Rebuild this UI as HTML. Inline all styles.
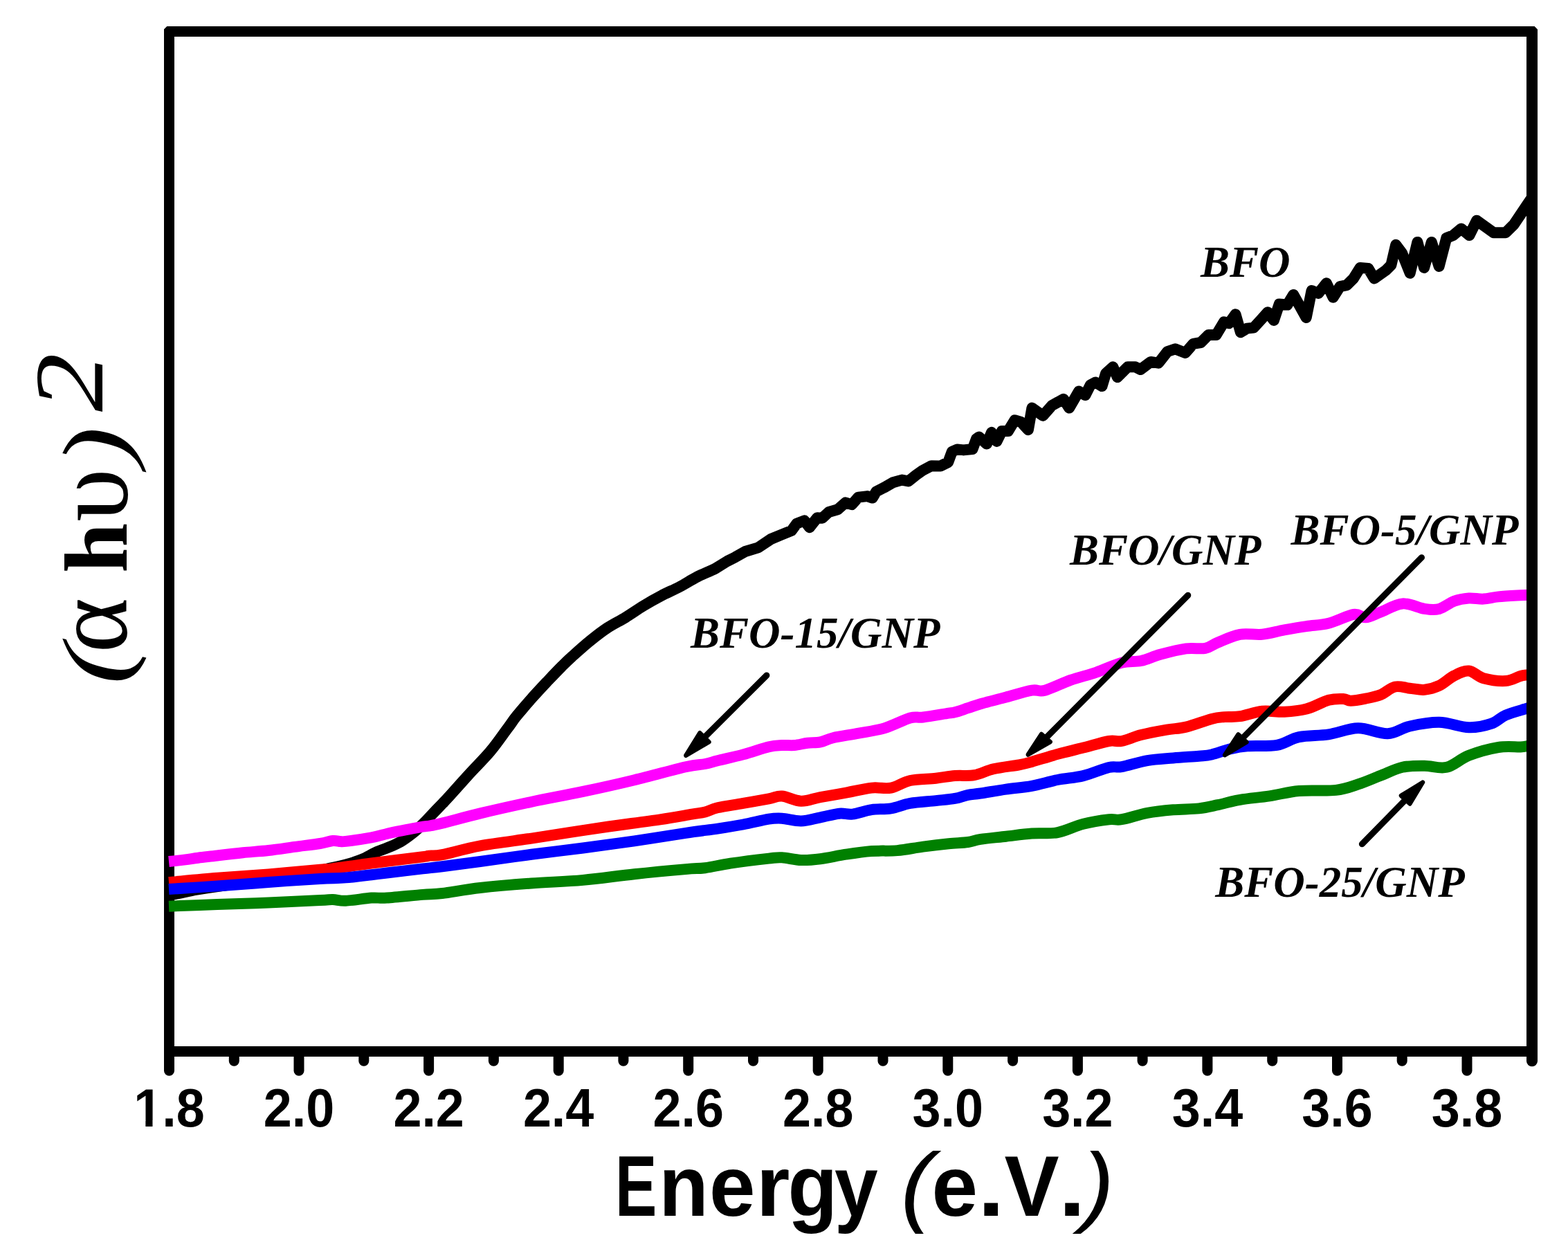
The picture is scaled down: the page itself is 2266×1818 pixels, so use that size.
<!DOCTYPE html><html><head><meta charset="utf-8"><style>html,body{margin:0;padding:0;background:#fff;overflow:hidden}svg{display:block}</style></head><body><svg width="2266" height="1818" viewBox="0 0 2266 1818">
<rect width="100%" height="100%" fill="#fff"/>
<defs><clipPath id="oneclip" clipPathUnits="userSpaceOnUse"><rect x="0" y="0" width="2400" height="1619.5"/><rect x="222.6" y="0" width="10.7" height="1818"/><rect x="251" y="0" width="300" height="1818"/></clipPath><clipPath id="plotclip"><rect x="0" y="0" width="2206" height="1818"/></clipPath></defs>
<g stroke="#000" stroke-width="15" fill="none">
<path d="M241.3,38 H2217.6 L2222,42.4 V1527 H237 V42.3 Z M252,53 V1512 H2206 V53 Z" fill="#000" fill-rule="evenodd" stroke="none"/>
</g>
<g stroke="#000" stroke-width="15" stroke-linecap="round"><line x1="244.5" y1="1519.5" x2="244.5" y2="1547.2"/><line x1="338.3" y1="1519.5" x2="338.3" y2="1533.3"/><line x1="432.0" y1="1519.5" x2="432.0" y2="1547.2"/><line x1="525.8" y1="1519.5" x2="525.8" y2="1533.3"/><line x1="619.6" y1="1519.5" x2="619.6" y2="1547.2"/><line x1="713.4" y1="1519.5" x2="713.4" y2="1533.3"/><line x1="807.2" y1="1519.5" x2="807.2" y2="1547.2"/><line x1="900.9" y1="1519.5" x2="900.9" y2="1533.3"/><line x1="994.7" y1="1519.5" x2="994.7" y2="1547.2"/><line x1="1088.5" y1="1519.5" x2="1088.5" y2="1533.3"/><line x1="1182.2" y1="1519.5" x2="1182.2" y2="1547.2"/><line x1="1276.0" y1="1519.5" x2="1276.0" y2="1533.3"/><line x1="1369.8" y1="1519.5" x2="1369.8" y2="1547.2"/><line x1="1463.6" y1="1519.5" x2="1463.6" y2="1533.3"/><line x1="1557.4" y1="1519.5" x2="1557.4" y2="1547.2"/><line x1="1651.1" y1="1519.5" x2="1651.1" y2="1533.3"/><line x1="1744.9" y1="1519.5" x2="1744.9" y2="1547.2"/><line x1="1838.7" y1="1519.5" x2="1838.7" y2="1533.3"/><line x1="1932.5" y1="1519.5" x2="1932.5" y2="1547.2"/><line x1="2026.2" y1="1519.5" x2="2026.2" y2="1533.3"/><line x1="2120.0" y1="1519.5" x2="2120.0" y2="1547.2"/><line x1="2214" y1="1519.5" x2="2214" y2="1533.3" stroke-width="16"/></g>
<path d="M244.0,1291.5 C245.3,1291.6 245.2,1293.3 251.9,1292.3 C258.6,1291.3 272.6,1287.8 284.5,1285.7 C296.4,1283.6 303.8,1282.3 323.0,1279.7 C342.2,1277.1 378.8,1273.1 400.0,1270.0 C421.2,1266.9 436.7,1263.7 450.0,1261.0 C463.3,1258.3 471.7,1255.9 480.0,1254.0 C488.3,1252.1 492.8,1251.5 500.0,1249.5 C507.2,1247.5 516.5,1244.6 523.5,1241.7 C530.5,1238.8 535.8,1235.1 542.0,1232.3 C548.2,1229.5 554.4,1227.6 560.6,1224.9 C566.8,1222.2 572.9,1220.0 579.1,1216.3 C585.3,1212.6 592.2,1207.4 597.7,1203.0 C603.2,1198.6 607.4,1194.5 612.0,1190.0 C616.6,1185.5 620.9,1180.5 625.5,1175.7 C630.1,1170.9 635.4,1165.5 639.4,1161.3 C643.4,1157.1 643.0,1157.6 649.6,1150.4 C656.2,1143.2 668.9,1128.8 678.7,1118.0 C688.6,1107.2 699.7,1096.5 708.7,1085.7 C717.8,1074.9 726.7,1061.7 733.0,1053.3 C739.3,1044.9 740.5,1042.3 746.3,1035.1 C752.1,1027.9 760.0,1018.7 767.7,1010.0 C775.4,1001.3 785.2,990.9 792.5,983.1 C799.8,975.4 805.8,969.1 811.4,963.5 C817.0,957.9 819.2,955.6 826.0,949.5 C832.8,943.4 843.4,933.8 852.0,926.8 C860.6,919.8 869.2,913.0 877.9,907.3 C886.5,901.5 895.2,897.6 903.9,892.3 C912.6,887.0 921.2,880.8 929.9,875.5 C938.5,870.2 947.1,865.3 955.8,860.8 C964.4,856.2 973.1,852.8 981.8,848.2 C990.5,843.7 999.1,837.9 1007.8,833.5 C1016.5,829.1 1026.6,825.4 1033.8,821.6 L1051.0,811.0 L1062.3,805.3 L1077.0,797.0 L1095.7,791.4 L1114.2,779.0 L1129.0,772.8 L1143.9,766.9 L1151.3,756.7 L1162.4,752.4 L1169.9,762.2 L1181.0,748.3 L1188.4,748.7 L1197.7,740.0 L1210.7,736.3 L1221.8,726.4 L1231.0,729.2 L1240.4,718.6 L1253.4,717.1 L1260.8,719.6 L1266.3,710.3 L1277.5,704.7 L1290.5,697.3 L1303.4,693.6 L1312.7,695.4 L1323.9,686.5 L1333.1,680.0 L1346.1,673.2 L1359.1,673.5 L1370.2,668.0 L1375.8,652.8 L1383.2,649.4 L1392.5,650.4 L1405.5,649.0 L1411.0,634.2 L1414.8,631.4 L1425.9,641.6 L1433.0,624.9 L1440.4,637.9 L1447.8,623.0 L1456.9,623.0 L1466.4,607.3 L1475.7,610.0 L1485.9,621.2 L1491.4,589.6 L1507.2,600.8 L1520.2,585.9 L1536.9,576.7 L1545.2,589.6 L1559.1,565.5 L1568.4,571.1 L1575.8,556.3 L1583.3,552.5 L1592.5,558.1 L1598.1,539.6 L1608.3,530.3 L1614.8,545.1 L1629.6,530.3 L1640.8,530.3 L1648.2,534.0 L1663.0,522.9 L1674.2,524.7 L1687.2,508.0 L1698.3,504.3 L1713.1,509.9 L1724.3,496.9 L1735.4,495.0 L1746.5,483.9 L1757.7,483.9 L1768.8,465.3 L1776.2,467.2 L1785.5,454.2 L1792.9,480.2 L1802.2,474.6 L1811.7,473.6 L1823.4,460.9 L1832.1,451.2 L1840.9,462.9 L1848.7,439.5 L1860.4,440.5 L1869.2,425.9 L1887.7,459.0 L1895.5,420.0 L1905.2,423.9 L1916.9,409.3 L1926.6,429.7 L1936.4,414.2 L1946.1,412.2 L1955.9,402.5 L1965.6,386.9 L1977.3,387.9 L1986.0,402.5 L2002.6,390.8 L2010.4,383.0 L2017.2,353.8 L2026.0,365.5 L2037.7,394.7 L2048.4,349.9 L2058.1,386.9 L2068.8,349.9 L2079.6,384.9 L2090.3,344.0 L2100.0,340.1 L2111.7,330.4 L2123.4,340.1 L2134.1,318.7 L2158.5,336.2 L2176.0,336.2 L2187.7,324.5 L2206.0,297.3 L2216.0,282.4" fill="none" stroke="#000" stroke-width="16" stroke-linejoin="round" stroke-linecap="butt" clip-path="url(#plotclip)"/>
<path d="M244.0,1245.0 C248.0,1244.6 260.7,1243.3 267.8,1242.4 C274.9,1241.5 278.7,1240.7 286.4,1239.7 C294.1,1238.7 303.2,1237.8 314.0,1236.5 C324.8,1235.2 338.7,1233.5 351.0,1232.2 C363.3,1231.0 375.6,1230.4 388.0,1229.0 C400.4,1227.6 413.1,1225.6 425.5,1223.9 C437.9,1222.2 453.4,1220.5 462.6,1219.0 C471.9,1217.5 476.1,1215.5 481.0,1215.0 C485.9,1214.5 488.9,1215.8 492.0,1216.0 C495.1,1216.2 492.2,1216.8 499.7,1215.9 C507.2,1215.0 526.9,1212.2 536.8,1210.4 C546.7,1208.6 552.8,1206.5 559.0,1205.0 C565.2,1203.5 565.3,1203.3 574.0,1201.6 C582.7,1199.9 603.3,1195.9 611.0,1194.6 C618.7,1193.3 615.3,1194.4 620.0,1193.6 C624.7,1192.8 626.6,1192.6 639.0,1189.6 C651.4,1186.6 672.6,1180.6 694.2,1175.4 C715.8,1170.2 743.7,1164.0 768.4,1158.7 C793.1,1153.5 817.9,1149.2 842.6,1143.9 C867.3,1138.7 892.1,1133.2 916.8,1127.2 C941.5,1121.2 974.0,1112.1 991.0,1108.2 C1008.0,1104.3 1011.2,1105.5 1018.9,1104.0 C1026.6,1102.5 1027.8,1101.6 1037.0,1099.3 C1046.2,1097.0 1061.6,1093.8 1074.0,1090.4 C1086.4,1087.1 1102.0,1081.4 1111.3,1079.2 C1120.6,1077.0 1123.9,1077.4 1130.0,1077.0 C1136.1,1076.6 1141.8,1077.5 1148.0,1077.0 C1154.2,1076.5 1160.8,1074.5 1167.0,1073.7 C1173.2,1072.9 1179.3,1073.7 1185.5,1072.4 C1191.7,1071.2 1194.8,1068.3 1204.0,1066.2 C1213.2,1064.1 1228.7,1062.0 1241.0,1059.7 C1253.3,1057.4 1265.6,1056.0 1278.0,1052.3 C1290.4,1048.6 1306.1,1040.1 1315.4,1037.5 C1324.7,1034.9 1324.7,1037.7 1334.0,1036.5 C1343.3,1035.3 1363.3,1031.8 1371.0,1030.6 C1378.7,1029.4 1375.3,1030.5 1380.0,1029.3 C1384.7,1028.1 1392.8,1025.2 1399.0,1023.2 C1405.2,1021.2 1407.8,1019.8 1417.0,1017.2 C1426.2,1014.6 1441.6,1010.6 1454.0,1007.4 C1466.4,1004.1 1482.0,999.3 1491.3,997.7 C1500.6,996.1 1500.7,1000.2 1510.0,997.7 C1519.3,995.2 1534.7,987.2 1547.0,982.9 C1559.3,978.6 1571.7,975.9 1584.0,971.7 C1596.3,967.5 1610.2,960.6 1621.0,957.8 C1631.8,955.0 1639.7,957.0 1649.0,955.0 C1658.3,953.0 1666.0,948.7 1676.8,945.8 C1687.6,942.9 1703.2,938.9 1714.0,937.4 C1724.8,935.9 1734.1,938.4 1741.8,936.9 C1749.5,935.4 1751.6,931.9 1760.0,928.5 C1768.4,925.1 1781.3,918.8 1792.0,916.8 C1802.7,914.8 1813.3,917.9 1824.0,916.8 C1834.7,915.7 1845.3,912.3 1856.0,910.4 C1866.7,908.5 1877.3,906.7 1888.0,905.1 C1898.7,903.5 1908.7,903.6 1920.0,900.8 C1931.3,897.9 1947.1,889.4 1956.0,888.0 C1964.9,886.6 1967.0,892.8 1973.4,892.3 C1979.9,891.8 1985.8,888.1 1994.7,884.8 C2003.6,881.5 2016.0,873.2 2026.7,872.4 C2037.4,871.6 2049.8,878.6 2058.7,879.9 C2067.6,881.1 2072.9,881.8 2080.0,879.9 C2087.1,878.0 2094.3,871.4 2101.4,868.8 C2108.5,866.2 2115.6,865.0 2122.7,864.5 C2129.8,864.0 2136.9,866.0 2144.0,865.6 C2151.1,865.2 2156.5,863.3 2165.4,862.4 C2174.3,861.5 2190.6,860.7 2197.4,860.3 C2204.2,859.9 2202.9,860.0 2206.0,859.9 C2209.1,859.8 2214.3,859.5 2216.0,859.4" fill="none" stroke="#ff00ff" stroke-width="16" stroke-linejoin="round" stroke-linecap="butt" clip-path="url(#plotclip)"/>
<path d="M244.0,1275.0 C255.7,1274.0 290.0,1270.7 314.0,1268.8 C338.0,1266.9 363.2,1265.4 388.0,1263.4 C412.8,1261.4 447.3,1258.0 462.6,1256.7 C477.9,1255.4 467.6,1256.9 480.0,1255.4 C492.4,1253.9 515.0,1250.4 536.8,1247.5 C558.6,1244.6 597.1,1240.0 611.0,1238.2 C624.9,1236.4 615.3,1237.1 620.0,1236.6 C624.7,1236.1 626.7,1237.6 639.0,1235.2 C651.3,1232.8 672.5,1226.2 694.0,1222.3 C715.5,1218.4 746.3,1214.8 768.0,1211.6 C789.7,1208.4 805.4,1205.8 824.0,1202.9 C842.6,1200.1 858.0,1197.6 879.7,1194.5 C901.4,1191.4 934.0,1187.3 954.0,1184.3 C974.0,1181.3 989.2,1178.4 1000.0,1176.6 C1010.8,1174.8 1012.8,1175.0 1019.0,1173.5 C1025.2,1172.0 1027.8,1169.4 1037.0,1167.3 C1046.2,1165.2 1061.7,1163.1 1074.0,1160.9 C1086.3,1158.8 1101.7,1156.1 1111.0,1154.4 C1120.3,1152.7 1122.2,1150.0 1130.0,1150.6 C1137.8,1151.1 1148.5,1157.5 1157.7,1157.7 C1167.0,1158.0 1174.7,1154.1 1185.5,1152.1 C1196.3,1150.1 1210.2,1147.8 1222.6,1145.6 C1235.0,1143.3 1248.9,1139.8 1259.7,1138.6 C1270.5,1137.4 1278.3,1140.4 1287.6,1138.6 C1296.9,1136.8 1304.6,1130.3 1315.4,1128.0 C1326.2,1125.7 1341.7,1125.9 1352.5,1124.7 C1363.3,1123.5 1370.8,1121.8 1380.0,1121.1 C1389.2,1120.3 1398.7,1121.8 1408.0,1120.2 C1417.3,1118.6 1424.9,1113.8 1435.7,1111.3 C1446.5,1108.8 1463.6,1107.0 1472.8,1105.3 C1482.0,1103.6 1481.7,1103.6 1491.0,1101.0 C1500.3,1098.4 1516.0,1093.3 1528.4,1089.9 C1540.8,1086.5 1553.1,1083.8 1565.5,1080.6 C1577.9,1077.4 1593.3,1072.6 1602.6,1071.0 C1611.8,1069.4 1613.3,1072.5 1621.0,1071.0 C1628.7,1069.5 1638.2,1064.8 1649.0,1062.1 C1659.8,1059.4 1675.2,1056.6 1686.0,1054.7 C1696.8,1052.8 1703.2,1053.2 1714.0,1050.6 C1724.8,1048.0 1741.7,1041.3 1751.0,1038.9 C1760.3,1036.5 1762.8,1036.7 1769.6,1036.1 C1776.4,1035.5 1782.9,1036.6 1792.0,1035.2 C1801.1,1033.8 1813.3,1028.9 1824.0,1027.8 C1834.7,1026.7 1845.3,1029.3 1856.0,1028.8 C1866.7,1028.3 1877.3,1027.4 1888.0,1024.6 C1898.7,1021.8 1911.1,1014.2 1920.0,1011.8 C1928.9,1009.4 1936.1,1009.8 1941.4,1010.0 C1946.7,1010.2 1946.7,1012.9 1952.0,1012.8 C1957.3,1012.7 1966.3,1011.0 1973.4,1009.6 C1980.5,1008.2 1987.6,1007.1 1994.7,1004.3 C2001.8,1001.4 2008.9,994.1 2016.0,992.5 C2023.1,990.9 2030.3,994.0 2037.4,994.7 C2044.5,995.4 2051.6,997.4 2058.7,996.8 C2065.8,996.1 2072.9,994.2 2080.0,990.8 C2087.1,987.4 2094.3,980.0 2101.4,976.5 C2108.5,973.0 2115.6,968.9 2122.7,969.5 C2129.8,970.1 2135.1,977.8 2144.0,980.2 C2152.9,982.6 2167.1,984.5 2176.0,984.0 C2184.9,983.5 2192.4,978.4 2197.4,977.0 C2202.4,975.6 2202.9,976.0 2206.0,975.5 C2209.1,975.0 2214.3,974.0 2216.0,973.8" fill="none" stroke="#ff0000" stroke-width="16" stroke-linejoin="round" stroke-linecap="butt" clip-path="url(#plotclip)"/>
<path d="M244.0,1285.0 C255.7,1284.2 290.0,1282.2 314.0,1280.5 C338.0,1278.8 363.2,1276.8 388.0,1275.0 C412.8,1273.2 444.0,1271.1 462.6,1270.0 C481.2,1268.9 487.3,1269.4 499.7,1268.4 C512.1,1267.4 526.9,1265.4 536.8,1264.2 C546.7,1263.0 546.6,1263.0 559.0,1261.5 C571.4,1260.0 597.7,1256.9 611.0,1255.4 C624.3,1253.9 625.2,1254.0 639.0,1252.3 C652.8,1250.6 672.5,1247.9 694.0,1245.0 C715.5,1242.1 743.2,1238.0 768.0,1234.8 C792.8,1231.5 817.8,1228.8 842.6,1225.5 C867.4,1222.2 892.1,1218.9 916.8,1215.3 C941.5,1211.7 971.0,1206.8 991.0,1203.8 C1011.0,1200.8 1023.2,1199.6 1037.0,1197.6 C1050.8,1195.5 1061.7,1193.8 1074.0,1191.5 C1086.3,1189.2 1101.7,1185.2 1111.0,1183.7 C1120.3,1182.2 1122.2,1182.2 1130.0,1182.7 C1137.8,1183.2 1148.5,1186.7 1157.7,1186.5 C1167.0,1186.3 1176.3,1183.1 1185.5,1181.3 C1194.7,1179.5 1205.2,1176.5 1213.0,1175.7 C1220.8,1174.9 1224.2,1177.5 1232.0,1176.6 C1239.8,1175.7 1250.4,1171.5 1259.7,1170.1 C1269.0,1168.7 1278.3,1169.8 1287.6,1168.3 C1296.9,1166.8 1304.6,1162.8 1315.4,1160.9 C1326.2,1159.0 1341.7,1158.3 1352.5,1157.1 C1363.3,1155.9 1372.2,1155.3 1380.0,1153.9 C1387.8,1152.5 1392.8,1150.0 1399.0,1148.8 C1405.2,1147.6 1407.8,1147.9 1417.0,1146.5 C1426.2,1145.1 1441.7,1142.4 1454.0,1140.6 C1466.3,1138.8 1478.6,1138.2 1491.0,1135.9 C1503.4,1133.6 1516.0,1129.5 1528.4,1127.0 C1540.8,1124.5 1553.1,1124.1 1565.5,1121.1 C1577.9,1118.1 1593.3,1111.2 1602.6,1109.0 C1611.8,1106.8 1611.8,1109.7 1621.0,1108.1 C1630.2,1106.5 1645.6,1101.3 1658.0,1099.2 C1670.4,1097.1 1683.0,1096.6 1695.4,1095.5 C1707.8,1094.4 1723.2,1093.5 1732.5,1092.7 C1741.8,1091.9 1743.2,1092.3 1751.0,1090.5 C1758.8,1088.7 1770.4,1084.1 1779.0,1082.1 C1787.6,1080.1 1791.7,1079.2 1802.7,1078.3 C1813.8,1077.4 1832.9,1079.0 1845.3,1076.8 C1857.7,1074.6 1864.8,1067.7 1877.3,1065.1 C1889.8,1062.5 1905.8,1063.4 1920.0,1061.3 C1934.2,1059.2 1948.5,1052.5 1962.7,1052.3 C1976.9,1052.1 1993.0,1060.7 2005.4,1060.2 C2017.9,1059.7 2025.0,1052.2 2037.4,1049.5 C2049.8,1046.8 2065.8,1043.5 2080.0,1043.8 C2094.2,1044.1 2110.2,1050.8 2122.7,1051.2 C2135.1,1051.6 2145.8,1048.9 2154.7,1045.9 C2163.6,1043.0 2167.4,1037.2 2176.0,1033.5 C2184.6,1029.8 2199.3,1026.1 2206.0,1024.0 C2212.7,1021.9 2214.3,1021.4 2216.0,1020.8" fill="none" stroke="#0000ff" stroke-width="16" stroke-linejoin="round" stroke-linecap="butt" clip-path="url(#plotclip)"/>
<path d="M244.0,1309.7 C255.7,1309.2 290.0,1307.9 314.0,1307.0 C338.0,1306.1 363.2,1305.5 388.0,1304.5 C412.8,1303.5 447.1,1301.8 462.6,1301.0 C478.1,1300.2 474.8,1299.9 481.0,1300.0 C487.2,1300.1 490.4,1302.2 499.7,1301.8 C509.0,1301.4 526.9,1298.3 536.8,1297.6 C546.7,1296.9 546.6,1298.4 559.0,1297.6 C571.4,1296.8 597.7,1294.0 611.0,1292.9 C624.3,1291.8 625.2,1292.7 639.0,1291.0 C652.8,1289.3 672.5,1285.4 694.0,1283.0 C715.5,1280.6 743.2,1278.3 768.0,1276.5 C792.8,1274.7 817.8,1274.1 842.6,1271.9 C867.4,1269.7 892.1,1265.8 916.8,1263.2 C941.5,1260.6 974.0,1257.6 991.0,1256.1 C1008.0,1254.6 1008.2,1255.6 1019.0,1254.2 C1029.8,1252.8 1040.4,1250.0 1055.7,1247.7 C1071.0,1245.4 1098.6,1242.0 1111.0,1240.6 C1123.4,1239.2 1122.2,1238.9 1130.0,1239.3 C1137.8,1239.7 1148.5,1242.7 1157.7,1243.0 C1167.0,1243.3 1174.7,1242.6 1185.5,1241.2 C1196.3,1239.8 1210.2,1236.6 1222.6,1234.7 C1235.0,1232.8 1247.3,1230.9 1259.7,1230.0 C1272.1,1229.1 1284.4,1230.2 1296.8,1229.1 C1309.2,1228.0 1321.6,1225.2 1334.0,1223.6 C1346.4,1222.0 1360.2,1220.4 1371.0,1219.3 C1381.8,1218.2 1391.3,1218.1 1399.0,1217.0 C1406.7,1215.9 1407.8,1214.3 1417.0,1212.9 C1426.2,1211.5 1441.7,1210.1 1454.0,1208.7 C1466.3,1207.3 1478.6,1205.5 1491.0,1204.6 C1503.4,1203.7 1516.0,1205.4 1528.4,1203.1 C1540.8,1200.8 1553.1,1193.8 1565.5,1190.7 C1577.9,1187.6 1593.3,1185.3 1602.6,1184.2 C1611.8,1183.1 1611.8,1185.8 1621.0,1184.2 C1630.2,1182.7 1645.6,1177.2 1658.0,1174.9 C1670.4,1172.6 1683.0,1171.4 1695.4,1170.3 C1707.8,1169.2 1721.7,1169.6 1732.5,1168.4 C1743.3,1167.2 1750.1,1165.3 1760.0,1163.2 C1769.9,1161.1 1779.5,1157.9 1792.0,1155.8 C1804.5,1153.7 1820.5,1152.5 1834.7,1150.4 C1848.9,1148.3 1861.3,1144.4 1877.3,1143.0 C1893.3,1141.6 1916.5,1143.5 1930.7,1141.9 C1944.9,1140.3 1952.0,1136.9 1962.7,1133.4 C1973.4,1129.9 1984.0,1125.1 1994.7,1121.0 C2005.4,1116.9 2016.0,1111.2 2026.7,1108.8 C2037.4,1106.4 2048.0,1106.7 2058.7,1106.7 C2069.4,1106.7 2080.0,1111.3 2090.7,1108.8 C2101.4,1106.3 2110.2,1096.6 2122.7,1091.8 C2135.1,1087.0 2152.9,1082.1 2165.4,1080.0 C2177.9,1077.9 2190.6,1079.7 2197.4,1079.4 C2204.2,1079.1 2202.9,1078.8 2206.0,1078.4 C2209.1,1078.0 2214.3,1077.4 2216.0,1077.2" fill="none" stroke="#008000" stroke-width="16" stroke-linejoin="round" stroke-linecap="butt" clip-path="url(#plotclip)"/>
<g transform="scale(0.945,1)" font-family="Liberation Sans, Arial, sans-serif" font-weight="bold" font-size="78"><text x="258.7" y="1628" text-anchor="middle" clip-path="url(#oneclip)">1.8</text><text x="457.2" y="1628" text-anchor="middle">2.0</text><text x="655.7" y="1628" text-anchor="middle">2.2</text><text x="854.1" y="1628" text-anchor="middle">2.4</text><text x="1052.6" y="1628" text-anchor="middle">2.6</text><text x="1251.1" y="1628" text-anchor="middle">2.8</text><text x="1449.5" y="1628" text-anchor="middle">3.0</text><text x="1648.0" y="1628" text-anchor="middle">3.2</text><text x="1846.5" y="1628" text-anchor="middle">3.4</text><text x="2044.9" y="1628" text-anchor="middle">3.6</text><text x="2243.4" y="1628" text-anchor="middle">3.8</text></g>
<g font-family="Liberation Sans, Arial, sans-serif">
<text transform="translate(889.0,1757) scale(0.724,1)" font-weight="bold" font-size="125">E</text>
<text transform="translate(952.3,1757) scale(0.936,1)" font-weight="bold" font-size="125">n</text>
<text transform="translate(1025.1,1757) scale(0.957,1)" font-weight="bold" font-size="125">e</text>
<text transform="translate(1092.7,1757) scale(1.0,1)" font-weight="bold" font-size="125">r</text>
<text transform="translate(1138.4,1757) scale(0.941,1)" font-weight="bold" font-size="125">g</text>
<text transform="translate(1206.0,1757) scale(0.902,1)" font-weight="bold" font-size="125">y</text>
<text transform="translate(1301.5,1755.5) scale(1.1,1)" font-style="italic" font-size="128">(</text>
<text transform="translate(1346.4,1757) scale(0.957,1)" font-weight="bold" font-size="125">e</text>
<text transform="translate(1413.0,1757) scale(1.11,1)" font-weight="bold" font-size="125">.</text>
<text transform="translate(1451.6,1757) scale(0.949,1)" font-weight="bold" font-size="125">V</text>
<text transform="translate(1529.7,1757) scale(1.12,1)" font-weight="bold" font-size="125">.</text>
<text transform="translate(1563.4,1755.5) scale(1.1,1)" font-style="italic" font-size="128">)</text>
</g>
<g transform="translate(183,0) rotate(-90)" font-family="Liberation Serif, Times New Roman, serif">
<text transform="translate(-989.3,0) scale(1.3,1)" font-style="italic" font-size="133">(</text>
<text x="-943.5" y="0" font-size="152">α</text>
<text x="-828" y="0" font-weight="bold" font-size="130">h</text>
<text x="-753.7" y="0" font-size="155">υ</text>
<text transform="translate(-674.3,0) scale(1.3,1)" font-style="italic" font-size="133">)</text>
<text transform="translate(-595.1,-35) scale(1.2,1)" font-style="italic" font-size="141">2</text>
</g>

<g font-family="Liberation Serif, Times New Roman, serif" font-weight="bold" font-style="italic" font-size="63">
<text x="1735" y="400">BFO</text>
<text x="1546" y="816">BFO/GNP</text>
<text x="1865.4" y="787">BFO-5/GNP</text>
<text x="998" y="936">BFO-15/GNP</text>
<text x="1756.3" y="1296">BFO-25/GNP</text>
</g>
<line x1="1107.9" y1="976" x2="1019.4" y2="1064.3" stroke="#000" stroke-width="9" stroke-linecap="round"/>
<path d="M991.3,1091.8 L1011.4,1059.2 L1024.5,1072.2 Z" fill="#000" stroke="#000" stroke-width="6.4" stroke-linejoin="round"/>
<line x1="1716.8" y1="860.3" x2="1512.7" y2="1065.2" stroke="#000" stroke-width="9" stroke-linecap="round"/>
<path d="M1485.7,1090.6 L1505.0,1060.9 L1517.7,1072.2 Z" fill="#000" stroke="#000" stroke-width="6.4" stroke-linejoin="round"/>
<line x1="2054.5" y1="805.7" x2="1796.8" y2="1065.6" stroke="#000" stroke-width="9" stroke-linecap="round"/>
<path d="M1770.0,1091.2 L1789.4,1061.4 L1801.5,1072.6 Z" fill="#000" stroke="#000" stroke-width="6.4" stroke-linejoin="round"/>
<line x1="1968.3" y1="1219.8" x2="2029.8" y2="1157.1" stroke="#000" stroke-width="9" stroke-linecap="round"/>
<path d="M2056.0,1130.6 L2024.9,1149.8 L2037.4,1161.5 Z" fill="#000" stroke="#000" stroke-width="6.4" stroke-linejoin="round"/>
</svg></body></html>
